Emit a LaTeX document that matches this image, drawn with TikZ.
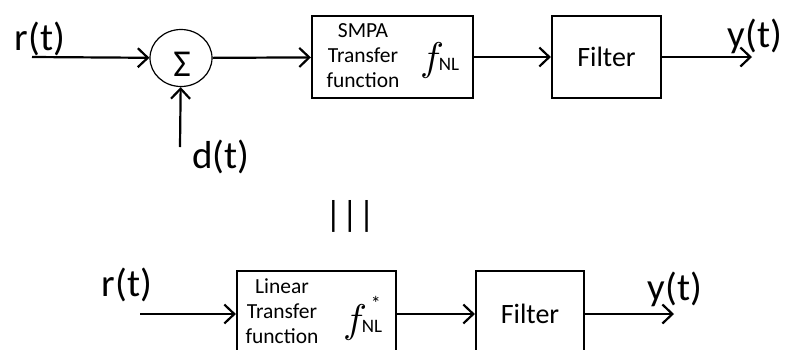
\documentclass[tikz,border=0pt]{standalone}
\usepackage{fontspec}
\setmainfont{Carlito}
\newfontfamily\ffont{Latin Modern Math}
\usetikzlibrary{arrows.meta,shapes.geometric}
\tikzset{
  sig/.style={line width=2.2pt,-{Straight Barb[length=10pt,width=19pt,line width=2.2pt]}},
  blockbox/.style={draw,line width=2.2pt,rectangle,minimum height=82pt,inner sep=0pt},
  biglabel/.style={inner sep=0pt,font=\fontsize{39}{42}\selectfont},
  smalltext/.style={inner sep=0pt,align=center,font=\fontsize{21.5}{25}\selectfont},
  filtertext/.style={inner sep=0pt,font=\fontsize{28}{28}\selectfont},
  fnl/.style={inner sep=0pt,anchor=base west}
}
% italic f with an NL subscript
\newcommand{\fNL}{{\ffont\fontsize{40}{40}\selectfont 𝑓}\kern-1pt{\fontsize{19}{19}\selectfont NL}}
% same, with a star above the subscript
\newcommand{\fNLstar}{{\ffont\fontsize{40}{40}\selectfont 𝑓}\kern-1pt\makebox[0pt][l]{\kern9pt\raisebox{22pt}{\fontsize{20}{20}\selectfont *}}{\fontsize{19}{19}\selectfont NL}}
\begin{document}
\begin{tikzpicture}[x=1pt,y=-1pt]
  \useasboundingbox (0,0) rectangle (786,349);
  % --- upper chain: summing junction, SMPA, filter ---
  \coordinate (rin) at (32,57);
  \node[biglabel] (rlab) at (40,39) {r(t)};
  \node[draw,line width=1.2pt,ellipse,minimum width=62pt,minimum height=57pt,inner sep=0pt] (sum) at (181,58) {};
  \node[inner sep=0pt,font=\fontsize{38}{38}\selectfont] (sigma) at (182,64) {Σ};
  \coordinate (din) at (180,147);
  \node[biglabel] (dlab) at (221,157) {d(t)};
  \node[blockbox,minimum width=161pt] (smpa) at (392.5,57) {};
  \node[smalltext] (smpatxt) at (363,56) {SMPA\\Transfer\\function};
  \node[fnl] (f1) at (420,70) {\fNL};
  \node[blockbox,minimum width=109pt] (filt1) at (606.5,57) {};
  \node[filtertext] (filt1txt) at (606.5,57) {Filter};
  \coordinate (yout) at (752,57);
  \node[biglabel] (ylab) at (755,36) {y(t)};
  \draw[sig] (rin) -- (sum);
  \draw[sig] (din) -- (sum);
  \draw[sig] (sum) -- (smpa);
  \draw[sig] (smpa) -- (filt1);
  \draw[sig] (filt1) -- (yout);
  % --- equivalence sign ---
  \node[inner sep=0pt,font=\fontsize{36}{36}\selectfont] (equiv) at (350,216) {|||};
  % --- lower chain: linear model, filter ---
  \coordinate (rin2) at (140,314);
  \node[biglabel] (rlab2) at (127,285) {r(t)};
  \node[blockbox,minimum width=159pt,minimum height=86pt] (lin) at (316.5,314) {};
  \node[smalltext] (lintxt) at (282,311) {Linear\\Transfer\\function};
  \node[fnl] (f2) at (343,332) {\fNLstar};
  \node[blockbox,minimum width=108pt,minimum height=86pt] (filt2) at (530,314) {};
  \node[filtertext] (filt2txt) at (530,314) {Filter};
  \coordinate (yout2) at (674,314);
  \node[biglabel] (ylab2) at (675,289) {y(t)};
  \draw[sig] (rin2) -- (lin);
  \draw[sig] (lin) -- (filt2);
  \draw[sig] (filt2) -- (yout2);
\end{tikzpicture}
\end{document}
